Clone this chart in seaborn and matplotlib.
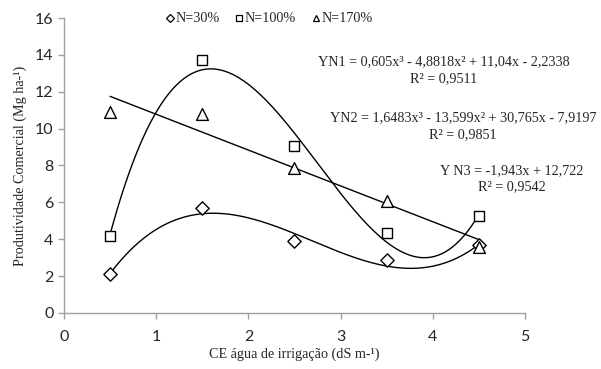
import numpy as np
import pandas as pd
import matplotlib
matplotlib.use('Agg')
import matplotlib.pyplot as plt
from matplotlib.lines import Line2D
import seaborn as sns

# data
ce = [0.5, 1.5, 2.5, 3.5, 4.5]
n30 = [2.1, 5.7, 3.9, 2.85, 3.7]
n100 = [4.15, 13.7, 9.05, 4.35, 5.25]
n170 = [10.9, 10.8, 7.85, 6.1, 3.6]

# trend line coefficients printed on the chart
coef_n1 = [0.605, -4.8818, 11.04, -2.2338]
coef_n2 = [1.6483, -13.599, 30.765, -7.9197]
coef_n3 = [-1.943, 12.722]

labels = ['N=30%', 'N=100%', 'N=170%']
markers = ['D', 's', '^']
msizes = [46, 62, 72]

sns.set_style('white')
serif = ['Liberation Serif', 'DejaVu Serif']
num_font = ['Lato', 'DejaVu Sans']
fs = 10.2

fig = plt.figure(figsize=(6.01, 3.69), dpi=100)
ax = fig.add_axes([0.1065, 0.1518, 0.767, 0.7994])

series = [n30, n100, n170]
coefs = [coef_n1, coef_n2, coef_n3]

xs = np.linspace(ce[0], ce[-1], 200)
for vals, c, m, s in zip(series, coefs, markers, msizes):
    sns.lineplot(x=xs, y=np.polyval(c, xs), color='black', lw=1, ax=ax)
    sns.scatterplot(x=ce, y=vals, marker=m, s=s, facecolor='white',
                    edgecolor='black', linewidth=1, ax=ax, zorder=3)

ax.set_xlim(0, 5)
ax.set_ylim(0, 16)
ax.set_xticks(range(0, 6))
ax.set_yticks(range(0, 17, 2))
for sp in ['top', 'right']:
    ax.spines[sp].set_visible(False)
for sp in ['left', 'bottom']:
    ax.spines[sp].set_color('#a0a0a0')
    ax.spines[sp].set_linewidth(1)
ax.tick_params(axis='both', direction='out', length=4, color='#a0a0a0',
               width=1, labelsize=11.5, bottom=True, left=True)
for t in ax.get_xticklabels() + ax.get_yticklabels():
    t.set_family(num_font)
ax.tick_params(axis='x', pad=8)

ax.set_xlabel('CE água de irrigação (dS m-¹)', family=serif, fontsize=fs, labelpad=3)
ax.set_ylabel('Produtividade Comercial (Mg ha-¹)', family=serif, fontsize=fs, labelpad=6)

handles = [Line2D([], [], marker=m, ls='none', mfc='white', mec='black',
                  ms=5 if m != 'D' else 4.2, mew=0.9) for m in markers]
ax.legend(handles, labels, loc='upper center', bbox_to_anchor=(0.445, 1.062),
          ncol=3, frameon=False, prop={'family': serif, 'size': fs},
          handlelength=0.6, handletextpad=0.1, columnspacing=1.1)

eq_kw = dict(family=serif, fontsize=fs, ha='center', va='center', transform=fig.transFigure)
fig.text(444 / 601, 1 - 62 / 369, 'YN1 = 0,605x³ - 4,8818x² + 11,04x - 2,2338', **eq_kw)
fig.text(444 / 601, 1 - 79 / 369, 'R² = 0,9511', **eq_kw)
fig.text(463 / 601, 1 - 118 / 369, 'YN2 = 1,6483x³ - 13,599x² + 30,765x - 7,9197', **eq_kw)
fig.text(463 / 601, 1 - 135 / 369, 'R² = 0,9851', **eq_kw)
fig.text(512 / 601, 1 - 171 / 369, 'Y N3 = -1,943x + 12,722', **eq_kw)
fig.text(512 / 601, 1 - 187 / 369, 'R² = 0,9542', **eq_kw)

fig.savefig('out.png', dpi=100)
